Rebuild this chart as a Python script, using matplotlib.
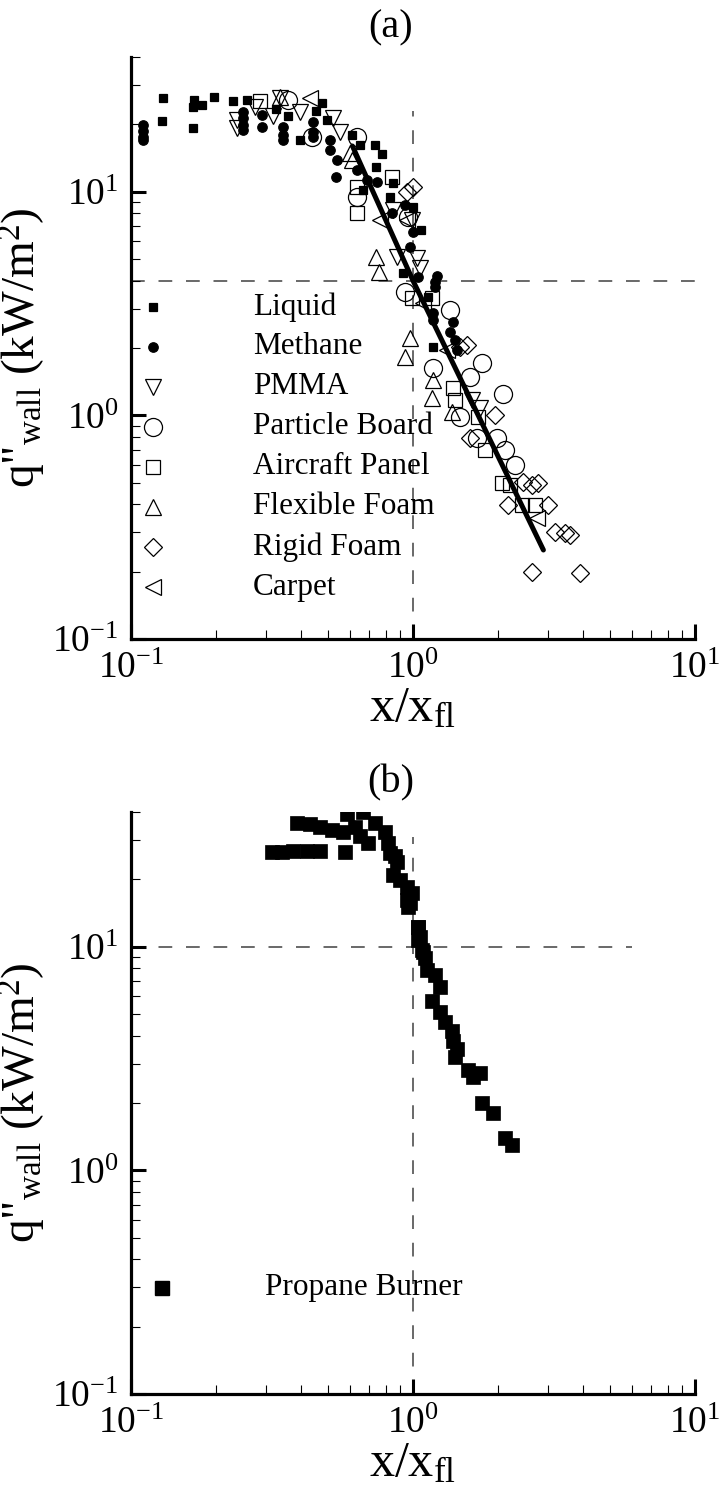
import matplotlib
matplotlib.use('Agg')
import matplotlib.pyplot as plt
from matplotlib.ticker import LogLocator, NullFormatter, LogFormatterSciNotation

plt.rcParams['font.family'] = ['Liberation Serif', 'DejaVu Serif']
plt.rcParams['mathtext.fontset'] = 'custom'
plt.rcParams['mathtext.rm'] = 'Liberation Serif'
plt.rcParams['mathtext.it'] = 'Liberation Serif:italic'
plt.rcParams['mathtext.bf'] = 'Liberation Serif:bold'
plt.rcParams['mathtext.default'] = 'regular'

# ---------------- panel (a) data ----------------
liquid_x = [0.130, 0.129, 0.167, 0.166, 0.179, 0.166, 0.197, 0.230, 0.258, 0.327, 0.361, 0.397,
            0.453, 0.475, 0.496, 0.608, 0.649, 0.733, 0.776, 0.740, 0.849, 0.665, 0.828, 1.000,
            1.067, 0.922, 1.129, 1.177]
liquid_y = [26.1, 20.6, 25.8, 24.0, 24.5, 19.3, 26.6, 25.3, 25.8, 23.3, 21.7, 17.1,
            23.0, 24.8, 21.0, 18.0, 16.2, 16.2, 14.8, 12.9, 10.9, 10.2, 9.5, 8.57,
            6.76, 4.34, 3.39, 2.03]

methane_x = [0.110, 0.110, 0.110, 0.110, 0.249, 0.249, 0.249, 0.249, 0.292, 0.292, 0.346, 0.346,
             0.346, 0.442, 0.442, 0.442, 0.508, 0.508, 0.537, 0.533, 0.632, 0.687, 0.745, 0.843,
             0.938, 1.000, 0.975, 1.042, 1.216, 1.197, 1.197, 1.177, 1.177, 1.386, 1.352, 1.409,
             1.432]
methane_y = [19.9, 18.7, 17.6, 17.1, 22.8, 21.4, 19.9, 18.9, 22.1, 19.5, 19.5, 18.0,
             17.1, 20.4, 18.5, 17.6, 17.1, 15.4, 13.9, 11.6, 12.5, 11.3, 11.0, 8.05,
             8.75, 6.62, 5.68, 4.17, 4.21, 3.96, 3.76, 2.87, 2.68, 2.62, 2.36, 2.18,
             1.96]

pmma_x = [0.238, 0.238, 0.275, 0.319, 0.337, 0.397, 0.520, 0.551, 0.849, 0.991, 0.877, 1.033,
          1.059, 1.618, 1.728]
pmma_y = [21.0, 19.3, 24.0, 21.7, 26.3, 22.8, 21.4, 18.5, 8.30, 7.50, 5.12, 5.07,
          4.57, 1.17, 1.08]

board_x = [0.361, 0.439, 0.632, 0.632, 0.959, 0.938, 1.352, 1.177, 1.757, 1.592, 2.085, 1.468,
           1.686, 1.986, 2.119, 2.301]
board_y = [25.8, 17.6, 17.6, 9.5, 7.73, 3.57, 2.96, 1.63, 1.72, 1.49, 1.24, 0.98,
           0.79, 0.79, 0.70, 0.60]

panel_x = [0.286, 0.632, 0.632, 0.843, 0.991, 1.167, 1.386, 1.409, 1.698, 1.800, 2.069, 2.208,
           2.438, 2.708]
panel_y = [25.3, 8.05, 10.5, 11.6, 3.36, 3.36, 1.33, 1.17, 0.98, 0.70, 0.499, 0.489,
           0.398, 0.398]

flex_x = [0.337, 0.598, 0.608, 0.740, 0.757, 0.975, 0.938, 1.177, 1.167, 1.374]
flex_y = [26.6, 14.9, 13.9, 5.12, 4.39, 2.22, 1.83, 1.44, 1.20, 1.03]

rigid_x = [1.000, 0.953, 1.553, 1.468, 1.954, 1.592, 2.455, 2.642, 2.776, 2.172, 3.013, 3.191,
           3.459, 3.606, 2.642, 3.909]
rigid_y = [10.5, 10.0, 2.07, 2.03, 1.00, 0.79, 0.504, 0.489, 0.499, 0.398, 0.398, 0.301,
           0.298, 0.292, 0.200, 0.197]

carpet_x = [0.431, 0.764, 0.953, 1.084, 1.320, 2.753]
carpet_y = [26.3, 7.50, 7.50, 3.19, 1.96, 0.348]

fit_x = [0.61, 1.0, 2.9]
fit_y = [16.0, 4.0, 0.25]

labels_a = ['Liquid', 'Methane', 'PMMA', 'Particle Board', 'Aircraft Panel',
            'Flexible Foam', 'Rigid Foam', 'Carpet']

# ---------------- panel (b) data ----------------
propane_x = [0.316, 0.343, 0.375, 0.421, 0.468, 0.574,
             0.388, 0.431, 0.468, 0.516, 0.565, 0.583, 0.665, 0.622, 0.649, 0.692, 0.733, 0.796,
             0.815, 0.828, 0.863, 0.877, 0.849, 0.900, 0.953, 0.991, 0.953, 0.959, 1.042, 1.059,
             1.084, 0.975, 1.042, 1.042, 1.076, 1.103, 1.121, 1.197, 1.247, 1.167, 1.247, 1.298,
             1.374, 1.386, 1.432, 1.409, 1.567, 1.633, 1.728, 1.757, 1.923, 2.119, 2.244]
propane_y = [26.6, 26.6, 26.9, 26.9, 26.9, 26.6,
             35.9, 35.2, 34.4, 33.4, 32.7, 39.0, 39.8, 34.4, 31.1, 29.2, 35.9, 32.7,
             29.2, 26.3, 25.3, 23.8, 21.0, 19.9, 18.5, 17.4, 16.2, 15.1, 12.3, 11.1,
             9.5, 15.7, 12.2, 10.7, 9.7, 8.9, 7.9, 7.5, 6.6, 5.7, 5.1, 4.6,
             4.2, 3.8, 3.5, 3.2, 2.8, 2.62, 2.73, 2.0, 1.81, 1.40, 1.30]

# ---------------- figure ----------------
W, H = 723, 1488
fig = plt.figure(figsize=(W / 100, H / 100), dpi=100)
ax1 = fig.add_axes([131 / W, 1 - 639 / H, 564 / W, 582 / H])
ax2 = fig.add_axes([131 / W, 1 - 1394 / H, 564 / W, 582 / H])

TICK_FS = 27
YLABEL = 'q"' + r'$_{\rm wall}$' + ' (kW/m' + r'$^{2}$' + ')'
for ax in (ax1, ax2):
    ax.set_xscale('log')
    ax.set_yscale('log')
    ax.set_xlim(0.1, 10)
    ax.set_ylim(0.1, 40)
    ax.spines['top'].set_visible(False)
    ax.spines['right'].set_visible(False)
    ax.spines['left'].set_linewidth(2.3)
    ax.spines['bottom'].set_linewidth(2.3)
    for axis in (ax.xaxis, ax.yaxis):
        axis.set_major_locator(LogLocator(base=10))
        axis.set_minor_locator(LogLocator(base=10, subs=[2, 3, 4, 5, 6, 7, 8, 9]))
        axis.set_minor_formatter(NullFormatter())
        axis.set_major_formatter(LogFormatterSciNotation())
    ax.tick_params(which='major', direction='in', length=10.5, width=2.2,
                   labelsize=TICK_FS, top=False, right=False)
    ax.tick_params(which='minor', direction='in', length=6.3, width=0.8,
                   top=False, right=False)
    ax.tick_params(axis='y', which='major', pad=9)
    ax.tick_params(axis='x', which='major', pad=9)
    ax.set_xlabel(r'x/x$_{\rm fl}$', fontsize=36, labelpad=0)
    ax.set_ylabel(YLABEL, fontsize=34, labelpad=3)

dash = (0, (9, 9))
# panel (a) reference lines
ax1.plot([0.1, 10], [4, 4], ls=dash, color='0.25', lw=1.1, zorder=1, clip_on=False)
ax1.plot([1, 1], [0.1, 23], ls=dash, color='0.25', lw=1.1, zorder=1)

styles = [
    (liquid_x, liquid_y, 's', 6.1, 'black'),
    (methane_x, methane_y, 'o', 6.8, 'black'),
    (pmma_x, pmma_y, 'v', 11.5, 'none'),
    (board_x, board_y, 'o', 13.0, 'none'),
    (panel_x, panel_y, 's', 9.4, 'none'),
    (flex_x, flex_y, '^', 11.5, 'none'),
    (rigid_x, rigid_y, 'D', 9.2, 'none'),
    (carpet_x, carpet_y, '<', 11.5, 'none'),
]
for xs, ys, m, ms, fc in styles:
    ax1.plot(xs, ys, ls='none', marker=m, ms=ms, mfc=fc, mec='black', mew=0.9, zorder=2)

ax1.plot(fit_x, fit_y, color='black', lw=3.6, solid_capstyle='round', zorder=3)

# legend (a)
for i, ((xs, ys, m, ms, fc), lab) in enumerate(zip(styles, labels_a)):
    yy = (639 - (307 + 40 * i)) / 582
    ax1.plot([(153 - 131) / 564], [yy], transform=ax1.transAxes, ls='none', marker=m, ms=ms,
             mfc=fc, mec='black', mew=0.9, clip_on=False)
    ax1.text((253 - 131) / 564, yy, lab, transform=ax1.transAxes, fontsize=22.5,
             ha='left', va='center')

# panel (b)
ax2.plot([0.1, 6], [10, 10], ls=dash, color='0.25', lw=1.1, zorder=1)
ax2.plot([1, 1], [0.1, 31], ls=dash, color='0.25', lw=1.1, zorder=1)
ax2.plot(propane_x, propane_y, ls='none', marker='s', ms=9.4, mfc='black', mec='black',
         mew=0.5, zorder=2)
yy = (1394 - 1288) / 582
ax2.plot([(162 - 131) / 564], [yy], transform=ax2.transAxes, ls='none', marker='s', ms=9.4,
         mfc='black', mec='black', clip_on=False)
ax2.text((265 - 131) / 564, yy, 'Propane Burner', transform=ax2.transAxes, fontsize=22.5,
         ha='left', va='center')

fig.text(391 / W, 1 - 28 / H, '(a)', ha='center', va='center', fontsize=29)
fig.text(391 / W, 1 - 783 / H, '(b)', ha='center', va='center', fontsize=29)

fig.savefig('out.png', dpi=100)
